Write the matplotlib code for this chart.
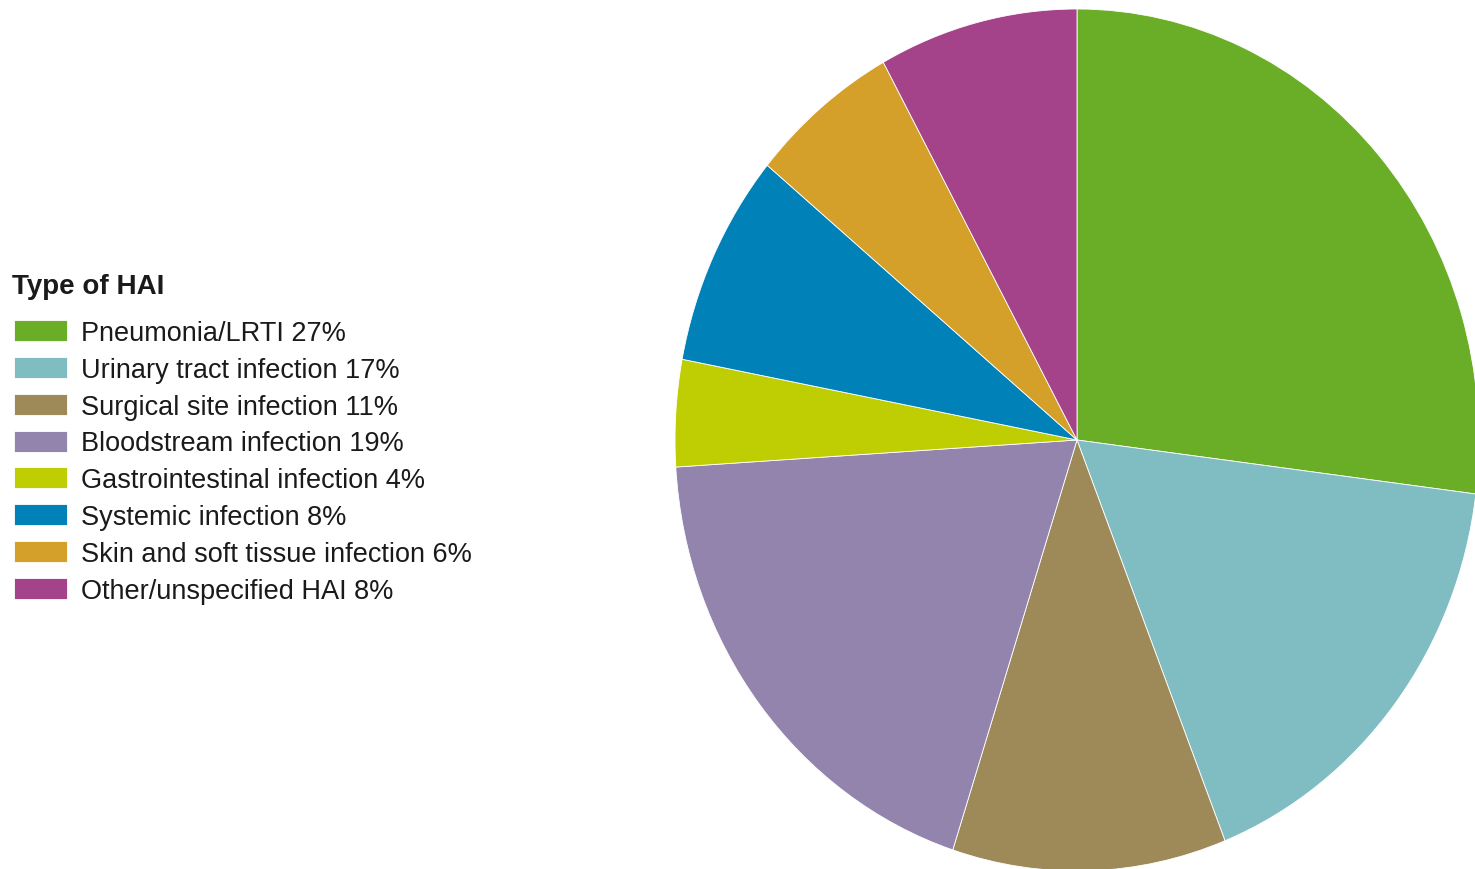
import matplotlib.pyplot as plt

# tipos de infección asociada a la atención sanitaria (HAI) y su peso en %
types = [
    "Pneumonia/LRTI",
    "Urinary tract infection",
    "Surgical site infection",
    "Bloodstream infection",
    "Gastrointestinal infection",
    "Systemic infection",
    "Skin and soft tissue infection",
    "Other/unspecified HAI",
]
shares = [27, 17, 11, 19, 4, 8, 6, 8]
colors = ["#6AAE27", "#7FBDC2", "#9E8A59", "#9284AC",
          "#BFCE02", "#0081B8", "#D4A02A", "#A4428A"]

plt.rcParams["font.family"] = ["Liberation Sans", "DejaVu Sans"]

W, H = 1475, 870
fig = plt.figure(figsize=(W / 100, H / 100), dpi=100)

# el pastel va algo estirado en vertical, así que el eje no mantiene aspecto
cx, cy, rx, ry = 1077, 441, 402, 431
ax = fig.add_axes([(cx - rx) / W, (H - cy - ry) / H, 2 * rx / W, 2 * ry / H])
wedges, _ = ax.pie(
    shares,
    colors=colors,
    startangle=90,
    counterclock=False,
    radius=1.0,
    wedgeprops=dict(edgecolor="white", linewidth=0.6),
)
ax.set_aspect("auto")
ax.set_xlim(-1, 1)
ax.set_ylim(-1, 1)
ax.axis("off")
for w in wedges:
    w.set_clip_on(False)

# título de la leyenda aparte para controlar el hueco con la primera fila
fig.text(12 / W, 1 - 287 / H, "Type of HAI", fontsize=20, fontweight="bold",
         color="#1a1a1a", ha="left", va="center")

labels = [f"{t} {v}%" for t, v in zip(types, shares)]
leg = fig.legend(
    wedges,
    labels,
    loc="upper left",
    bbox_to_anchor=(14 / W, 1 - 321 / H),
    frameon=False,
    fontsize=19.5,
    handlelength=1.96,
    handleheight=0.81,
    handletextpad=0.5,
    labelspacing=0.4,
    borderpad=0,
    borderaxespad=0,
)
for txt in leg.get_texts():
    txt.set_color("#1a1a1a")
for h in leg.legend_handles:
    h.set_edgecolor("white")

fig.savefig("out.png", dpi=100)
